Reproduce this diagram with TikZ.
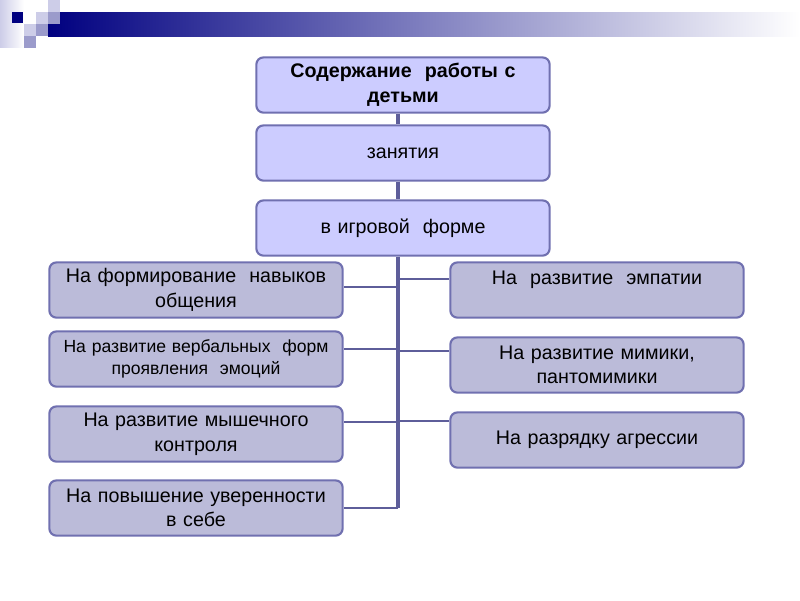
\documentclass[tikz,border=0pt]{standalone}
\usepackage{fontspec}
\setmainfont{Liberation Sans}
\usetikzlibrary{positioning}
\definecolor{topfill}{HTML}{CCCCFF}
\definecolor{subfill}{HTML}{BBBBD9}
\definecolor{boxline}{HTML}{7070B0}
\definecolor{linkline}{HTML}{5E5E9A}
\definecolor{navy}{HTML}{000080}
\definecolor{sqlight}{HTML}{CDCDE8}
\definecolor{sqmid}{HTML}{9B9BCB}
\tikzset{
    box/.style={
        draw=boxline, line width=1.5pt, rounded corners=5pt,
        minimum width=7.33cm, minimum height=1.38cm, inner sep=0pt,
        text width=7.2cm, align=center, font=\fontsize{14}{17.5}\selectfont
    },
    topbox/.style={ box, fill=topfill },
    subbox/.style={ box, fill=subfill },
    link/.style={ draw=linkline, line width=1.8pt },
    trunkline/.style={ draw=linkline, line width=2.2pt }
}

\begin{document}
\begin{tikzpicture}[ x=0.025cm, y=-0.025cm ]

	\useasboundingbox (0,0) rectangle (800,600);

	% header bar
		\shade[ left color=navy, right color=white ] (48,12) rectangle (800,36);
		\shade[ left color=sqlight, right color=white ] (0,0) rectangle (24,47);
		\fill[ navy ] (12,12) rectangle (23,23);
		\fill[ sqlight ] (48,0) rectangle (60,12);
		\fill[ sqlight ] (36,12) rectangle (48,24);
		\fill[ sqmid ] (48,12) rectangle (60,24);
		\fill[ sqlight ] (24,24) rectangle (36,36);
		\fill[ sqmid ] (36,24) rectangle (48,36);
		\fill[ sqmid ] (24,36) rectangle (36,48);

	\def\xtop{403}
	\def\xleft{196}
	\def\xright{597}

		\node[ topbox, font=\fontsize{14}{17.5}\selectfont\bfseries ] (content) at (\xtop, 85) {Содержание~~работы с\\ детьми};
		\node[ topbox ] (lessons) at (\xtop, 153) {занятия};
		\node[ topbox ] (game) at (\xtop, 228) {в игровой~~форме};

		\node[ subbox ] (skills) at (\xleft, 290) {На формирование~~навыков\\ общения};
		\node[ subbox, font=\fontsize{12.5}{15.5}\selectfont ] (verbal) at (\xleft, 359) {На развитие вербальных~~форм\\ проявления~~эмоций};
		\node[ subbox ] (muscle) at (\xleft, 434) {На развитие мышечного\\ контроля};
		\node[ subbox ] (confidence) at (\xleft, 508) {На повышение уверенности\\ в себе};

		\node[ subbox ] (empathy) at (\xright, 290) {На~~развитие~~эмпатии\\ \mbox{}};
		\node[ subbox ] (mimic) at (\xright, 365) {На развитие мимики,\\ пантомимики};
		\node[ subbox ] (aggression) at (\xright, 440) {На разрядку агрессии};

	% trunk and branches
	\coordinate (trunk) at (398, 0);
	\coordinate (jempathy) at (398, 279);
	\coordinate (jskills) at (398, 287);
	\coordinate (jverbal) at (398, 349);
	\coordinate (jmimic) at (398, 351);
	\coordinate (jaggression) at (398, 421);
	\coordinate (jmuscle) at (398, 422);
	\coordinate (jend) at (398, 508);

		\draw[ trunkline ] (content.south -| trunk) -- (lessons.north -| trunk);
		\draw[ trunkline ] (lessons.south -| trunk) -- (game.north -| trunk);
		\draw[ trunkline ] (game.south -| trunk) -- (jend);
		\draw[ link ] (jend) -- (confidence.east |- jend);

		\draw[ link ] (jskills) -- (skills.east |- jskills);
		\draw[ link ] (jverbal) -- (verbal.east |- jverbal);
		\draw[ link ] (jmuscle) -- (muscle.east |- jmuscle);
		\draw[ link ] (jempathy) -- (empathy.west |- jempathy);
		\draw[ link ] (jmimic) -- (mimic.west |- jmimic);
		\draw[ link ] (jaggression) -- (aggression.west |- jaggression);

\end{tikzpicture}
\end{document}
